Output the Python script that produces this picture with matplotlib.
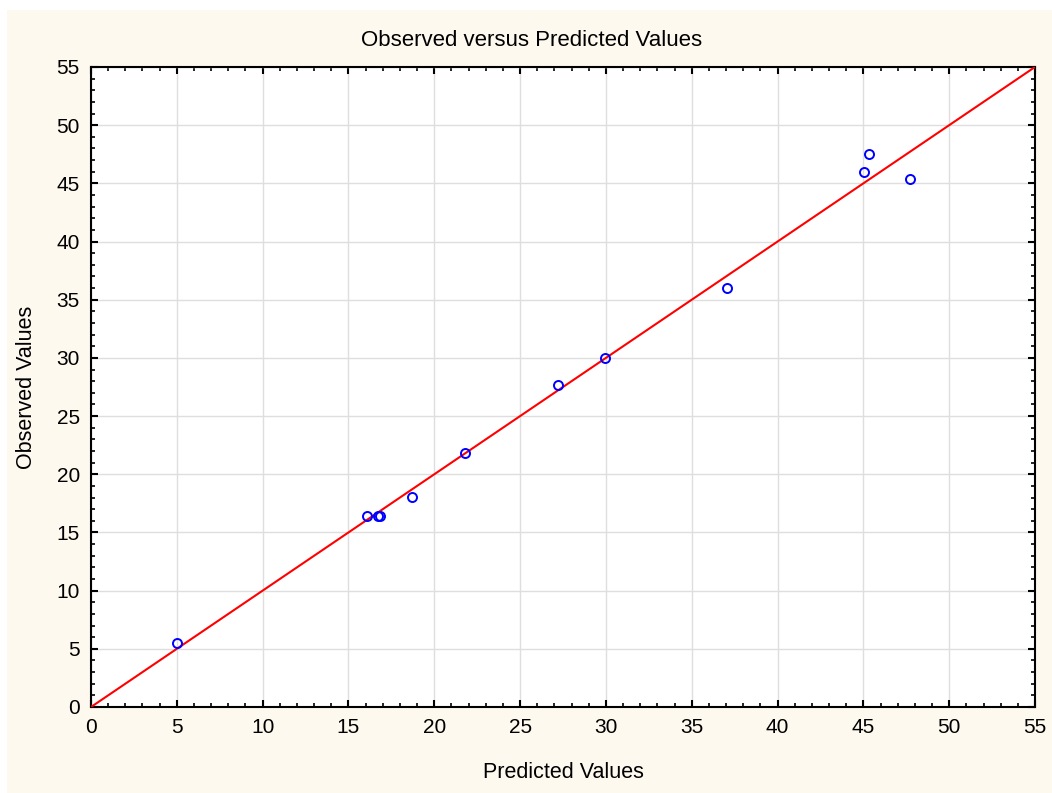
import matplotlib
matplotlib.use("Agg")
import matplotlib.pyplot as plt
from matplotlib.patches import Rectangle
from matplotlib.ticker import MultipleLocator

plt.rcParams['font.family'] = ['Liberation Sans', 'DejaVu Sans']

# predicted vs observed pairs
predicted = [5.0, 16.1, 16.75, 16.85, 18.7, 21.8, 27.2, 29.95, 37.05, 45.05, 45.3, 47.7]
observed = [5.5, 16.45, 16.45, 16.45, 18.05, 21.8, 27.7, 30.0, 36.0, 46.0, 47.5, 45.4]
line_x = [0, 55]
line_y = [0, 55]

W, H = 1052, 793
fig = plt.figure(figsize=(W / 100, H / 100), dpi=100)
fig.patch.set_facecolor('white')
# cream panel behind everything, leaving a thin white margin top/left
fig.patches.append(Rectangle((7 / W, -0.01), 1.02 - 7 / W, 1.01 - 10 / H,
                             transform=fig.transFigure, facecolor='#fef9ef',
                             edgecolor='none', zorder=-10))

ax = fig.add_axes([91 / W, 1 - 707 / H, (1035 - 91) / W, (707 - 67) / H])
ax.set_facecolor('white')

ax.plot(line_x, line_y, color='red', lw=1.5, zorder=3)
ax.plot(predicted, observed, 'o', ms=6.5, mfc='none', mec='blue', mew=1.4, zorder=4)

ax.set_xlim(0, 55)
ax.set_ylim(0, 55)
ax.xaxis.set_major_locator(MultipleLocator(5))
ax.yaxis.set_major_locator(MultipleLocator(5))
ax.xaxis.set_minor_locator(MultipleLocator(1))
ax.yaxis.set_minor_locator(MultipleLocator(1))
ax.grid(True, which='major', color='#dedede', lw=1, zorder=0)
ax.set_axisbelow(True)

ax.tick_params(which='both', direction='in', top=True, right=True,
               color='black', labelsize=15)
ax.tick_params(which='major', length=5, width=1.5, pad=8)
ax.tick_params(which='minor', length=3, width=1.2)
for s in ax.spines.values():
    s.set_linewidth(1.5)
    s.set_color('black')

ax.set_title('Observed versus Predicted Values', fontsize=16, pad=15, x=0.467)
ax.set_xlabel('Predicted Values', fontsize=15.5, labelpad=18)
ax.set_ylabel('Observed Values', fontsize=15.5, labelpad=14)

fig.savefig('out.png', dpi=100)
